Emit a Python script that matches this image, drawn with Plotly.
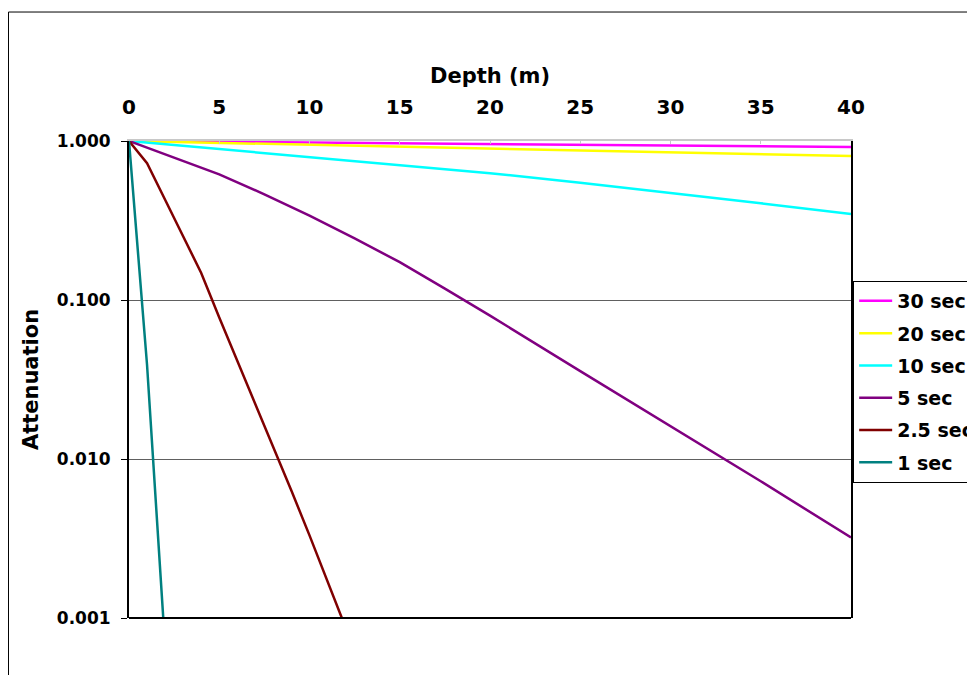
import plotly.graph_objects as go

# ---- data ----
series_names = ["30 sec", "20 sec", "10 sec", "5 sec", "2.5 sec", "1 sec"]
series_colors = ["#FF00FF", "#FFFF00", "#00FFFF", "#800080", "#800000", "#008080"]

depth_30 = [0, 10, 20, 30, 40]
att_30 = [1.0, 0.979, 0.957, 0.937, 0.917]

depth_20 = [0, 10, 20, 30, 40]
att_20 = [1.0, 0.947, 0.897, 0.849, 0.804]

depth_10 = [0, 5, 10, 15, 20, 25, 30, 35, 40]
att_10 = [1.0, 0.891, 0.791, 0.705, 0.627, 0.547, 0.473, 0.406, 0.348]

depth_5 = [0, 2.5, 5, 7.5, 10, 12.5, 15, 17.5, 20, 25, 30, 35, 40]
att_5 = [1.0, 0.785, 0.617, 0.462, 0.339, 0.244, 0.173, 0.118, 0.0798,
         0.0357, 0.0161, 0.00724, 0.00321]

depth_2_5 = [0, 1, 2, 3, 4, 5, 6, 7, 8, 9, 10, 11, 12]
att_2_5 = [1.0, 0.724, 0.427, 0.251, 0.148, 0.0776, 0.0417, 0.0224, 0.0120,
           0.00631, 0.00331, 0.00170, 0.000871]

depth_1 = [0, 1, 2]
att_1 = [1.0, 0.039, 0.00066]

x_ticks = [0, 5, 10, 15, 20, 25, 30, 35, 40]
y_tickvals = [1, 0.1, 0.01, 0.001]
y_ticktext = ["1.000", "0.100", "0.010", "0.001"]

all_depths = [depth_30, depth_20, depth_10, depth_5, depth_2_5, depth_1]
all_atts = [att_30, att_20, att_10, att_5, att_2_5, att_1]

FONT = "DejaVu Sans"

fig = go.Figure()
for name, color, d, a in zip(series_names, series_colors, all_depths, all_atts):
    fig.add_trace(go.Scatter(
        x=d, y=a, name=name, mode="lines",
        line=dict(color=color, width=2.5),
        legendgroup=name,
    ))

fig.update_layout(
    width=967, height=667,
    paper_bgcolor="white", plot_bgcolor="white",
    margin=dict(l=121, r=124, t=133, b=57, autoexpand=False),
    showlegend=True,
    legend=dict(
        x=1.003, y=0.7065, xanchor="left", yanchor="top",
        bordercolor="#000000", borderwidth=1, bgcolor="white",
        font=dict(family=FONT, size=19, color="black", weight="bold"),
        tracegroupgap=4.6, traceorder="grouped", itemwidth=33,
    ),
    xaxis=dict(
        range=[0, 40], side="top", tickvals=x_ticks,
        showline=True, linecolor="#c8c8c8", linewidth=1.5,
        ticks="inside", ticklen=3, tickcolor="#c8c8c8",
        showgrid=False, zeroline=False,
        tickfont=dict(family=FONT, size=20, color="black", weight="bold"),
        ticklabelstandoff=17,
        title=dict(text="Depth (m)", standoff=6,
                   font=dict(family=FONT, size=21, color="black", weight="bold")),
    ),
    yaxis=dict(
        type="log", range=[-3, 0],
        tickvals=y_tickvals, ticktext=y_ticktext,
        showline=True, linecolor="black", linewidth=2, mirror=True,
        ticks="outside", ticklen=6, tickcolor="black",
        showgrid=True, gridcolor="#606060", gridwidth=1,
        zeroline=False,
        tickfont=dict(family=FONT, size=17, color="black", weight="bold"),
        ticklabelstandoff=7,
        title=dict(text="Attenuation", standoff=12,
                   font=dict(family=FONT, size=21, color="black", weight="bold")),
    ),
    shapes=[
        # bottom border of the plot area
        dict(type="line", xref="paper", yref="paper", x0=0, x1=1, y0=0, y1=0,
             line=dict(color="black", width=2)),
        # outer chart frame (extends beyond the visible window)
        dict(type="rect", xref="paper", yref="paper",
             x0=-0.1669, x1=1.4, y0=-0.3, y1=1.2704,
             line=dict(color="#000000", width=1), layer="below"),
    ],
)

fig.write_html("out.html")
